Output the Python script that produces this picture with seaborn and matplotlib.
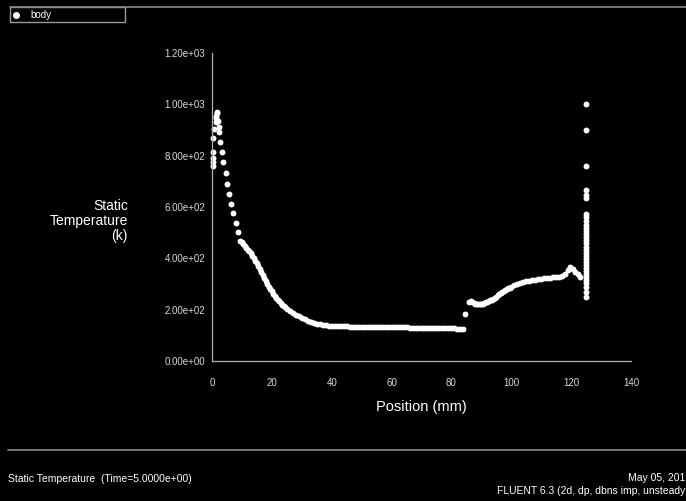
import numpy as np
import pandas as pd
import matplotlib
matplotlib.use("Agg")
import matplotlib.pyplot as plt
from matplotlib.ticker import MultipleLocator, FuncFormatter
from matplotlib.lines import Line2D
from matplotlib.patches import Rectangle
import seaborn as sns

# Static temperature along the body, grouped by segment
# inlet spike
pos_spike = [0.3, 0.3, 0.35, 0.4, 0.4, 0.6, 1.2, 1.4, 1.5, 1.6, 1.8, 2.0, 2.2, 2.3,
             2.8, 3.2, 3.7, 4.6, 5.1, 5.7, 6.4, 7.1, 7.9, 8.6, 9.4]
temp_spike = [760, 775, 790, 815, 868, 905, 930, 955, 945, 970, 965, 935, 912, 892,
              853, 813, 775, 732, 689, 651, 611, 576, 539, 502, 468]

# cooling section
pos_decay = [10.0, 10.5, 11.0, 11.5, 12.0, 12.5, 13.0, 13.5, 14.0, 14.5, 15.0, 15.5,
             16.0, 16.5, 17.0, 17.5, 18.0, 18.5, 19.0, 19.5, 20.0, 20.5, 21.0, 21.5,
             22.0, 22.5, 23.0, 23.5, 24.0, 24.5, 25.0, 26, 27, 28, 29, 30, 31, 32, 33,
             34, 35, 36, 37, 38, 39, 40, 41, 42, 43, 44, 45, 46, 47, 48, 49, 50, 51,
             52, 53, 54, 55, 56, 57, 58, 59, 60, 61, 62, 63, 64, 65, 66, 67, 68, 69,
             70, 71, 72, 73, 74, 75, 76, 77, 78, 79, 80, 81, 82, 83, 84]
temp_decay = [462, 455, 448, 441, 434, 427, 419, 410, 401, 391, 381, 370,
              359, 348, 337, 325, 313, 301, 290, 280, 271, 262, 254, 246,
              239, 232, 226, 220, 214, 209, 204, 196, 188, 181, 174, 168, 162, 157, 152,
              148, 145, 143, 141, 139, 138, 137, 136, 136, 135, 135, 135, 134, 134, 134, 134, 134, 133,
              133, 133, 133, 133, 132, 132, 132, 132, 132, 131, 131, 131, 131, 131, 130, 130, 130, 130,
              130, 129, 129, 129, 129, 128, 128, 128, 128, 127, 127, 127, 126, 126, 126]

# rear section
pos_rear = [84.7, 86.0, 86.5, 87.0, 87.5, 88, 88.5, 89, 89.5, 90, 90.5, 91, 91.5, 92, 92.5,
            93, 93.5, 94, 94.5, 95, 95.5, 96, 96.5, 97, 97.5, 98, 98.5, 99, 99.5, 100,
            101, 102, 103, 104, 105, 106, 107, 108, 109, 110, 111, 112, 113, 114, 115,
            116, 117, 118, 119, 119.7, 120.5, 121.4, 122.2, 123]
temp_rear = [182, 228, 232, 229, 226, 224, 223, 222, 222, 223, 224, 226, 228, 230, 233,
             236, 239, 243, 247, 251, 256, 260, 264, 268, 272, 276, 280, 283, 286, 289,
             296, 301, 305, 308, 311, 313, 315, 316, 318, 320, 322, 324, 325, 327, 328,
             329, 331, 340, 355, 367, 358, 348, 338, 328]

# outlet face
pos_outlet = [125.0] * 32
temp_outlet = [1000, 900, 760, 666, 648, 634, 573, 561, 545, 530, 518, 506, 494, 482,
               470, 458, 446, 434, 422, 410, 398, 386, 374, 362, 350, 338, 326, 314,
               302, 290, 270, 250]

xticks = [0, 20, 40, 60, 80, 100, 120, 140]
yticks = [0, 200, 400, 600, 800, 1000, 1200]

df = pd.DataFrame({
    "Position (mm)": pos_spike + pos_decay + pos_rear + pos_outlet,
    "Static Temperature": temp_spike + temp_decay + temp_rear + temp_outlet,
})

sns.set_theme(style="dark", rc={
    "figure.facecolor": "black",
    "axes.facecolor": "black",
    "axes.edgecolor": "#b0b0b0",
    "text.color": "white",
    "xtick.color": "#b0b0b0",
    "ytick.color": "#b0b0b0",
})
plt.rcParams["font.family"] = ["Liberation Sans Narrow", "Liberation Sans", "DejaVu Sans"]

W, H = 686, 501
fig = plt.figure(figsize=(W / 100, H / 100), dpi=100)
ax = fig.add_axes([212 / W, 1 - 361 / H, 419 / W, 308 / H])

sns.scatterplot(data=df, x="Position (mm)", y="Static Temperature", ax=ax,
                color="white", s=18, linewidth=0, legend=False, clip_on=False)

ax.set_xlim(0, 140)
ax.set_ylim(0, 1200)
ax.set_xticks(xticks)
ax.set_yticks(yticks)
ax.xaxis.set_minor_locator(MultipleLocator(10))
ax.yaxis.set_minor_locator(MultipleLocator(100))
ax.yaxis.set_major_formatter(FuncFormatter(lambda v, p: f"{v:.2e}"))
ax.tick_params(axis="both", which="both", labelsize=7, labelcolor="#d8d8d8",
               width=0.8, color="#b0b0b0")
ax.tick_params(axis="y", which="both", direction="out", length=3, pad=2)
ax.tick_params(axis="x", which="both", direction="inout", length=3, pad=11)
for side in ("top", "right"):
    ax.spines[side].set_visible(False)
for side in ("left", "bottom"):
    ax.spines[side].set_linewidth(0.9)
ax.grid(False)
ax.set_xlabel("")
ax.set_ylabel("")

def px(x, y):
    return x / W, 1 - y / H

# axis titles
fig.text(*px(421, 407), "Position (mm)", ha="center", va="center",
         fontsize=10.5, color="white")
fig.text(*px(128, 221), "Static\nTemperature\n(k)", ha="right", va="center",
         fontsize=10, color="white", linespacing=1.05, multialignment="right")

# header rule and legend box
fig.add_artist(Line2D([10 / W, 1], [1 - 7 / H, 1 - 7 / H], color="#8a8a8a", lw=1.2))
fig.add_artist(Rectangle(px(10, 22), 115 / W, 15 / H, fill=False,
                         edgecolor="#9a9a9a", lw=1.0))
fig.add_artist(Line2D([16 / W], [1 - 15 / H], marker="o", color="white",
                      markersize=4, linestyle="none"))
fig.text(*px(30, 15), "body", ha="left", va="center", fontsize=7, color="white")

# footer
fig.add_artist(Line2D([8 / W, 1], [1 - 450 / H, 1 - 450 / H], color="#8a8a8a", lw=1.2))
fig.text(*px(8, 479), "Static Temperature  (Time=5.0000e+00)", ha="left", va="center",
         fontsize=7.5, color="white")
fig.text(*px(685, 478), "May 05, 201", ha="right", va="center",
         fontsize=7.5, color="white")
fig.text(*px(685, 491), "FLUENT 6.3 (2d, dp, dbns imp, unsteady", ha="right",
         va="center", fontsize=7.5, color="white")

fig.savefig("out.png", dpi=100, facecolor="black")
